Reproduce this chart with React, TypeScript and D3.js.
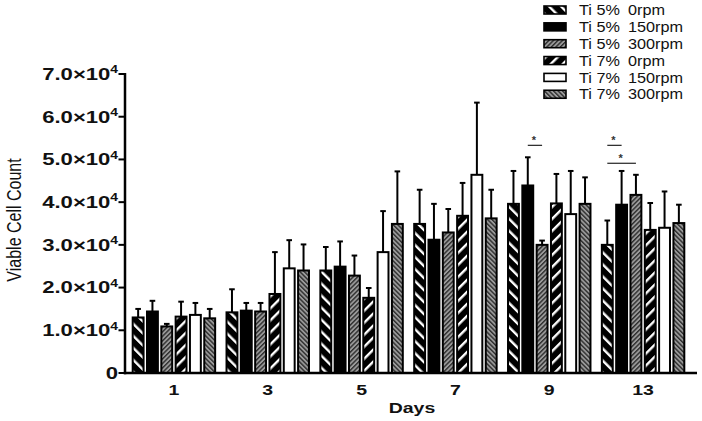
import React from "react";
import * as d3 from "d3";

const days = ["1", "3", "5", "7", "9", "13"];
const seriesNames = [
  ["Ti 5%", "0rpm"],
  ["Ti 5%", "150rpm"],
  ["Ti 5%", "300rpm"],
  ["Ti 7%", "0rpm"],
  ["Ti 7%", "150rpm"],
  ["Ti 7%", "300rpm"],
];
const ti5_0 = [13000, 14200, 24000, 34900, 39600, 30000];
const ti5_150 = [14400, 14600, 24900, 31200, 43900, 39400];
const ti5_300 = [10900, 14400, 22800, 32900, 30000, 41700];
const ti7_0 = [13200, 18500, 17600, 36800, 39700, 33500];
const ti7_150 = [13600, 24500, 28300, 46400, 37200, 34000];
const ti7_300 = [12800, 24000, 34900, 36200, 39600, 35100];
const err5_0 = [2000, 5400, 5500, 8000, 7700, 5700];
const err5_150 = [2500, 1800, 5900, 8400, 6600, 7900];
const err5_300 = [600, 2000, 4700, 5500, 1000, 4700];
const err7_0 = [3500, 9800, 2300, 7700, 6900, 6300];
const err7_150 = [2800, 6600, 9600, 16900, 10100, 8500];
const err7_300 = [2200, 6100, 12300, 6700, 6200, 4300];
const yTicks = [0, 10000, 20000, 30000, 40000, 50000, 60000, 70000];
const yTickMantissa = ["0", "1.0", "2.0", "3.0", "4.0", "5.0", "6.0", "7.0"];
const sigDays = ["9", "13", "13"];
const sigFrom = [1, 0, 0];
const sigTo = [2, 1, 2];
const sigLevel = [53300, 53300, 49100];

const means = [ti5_0, ti5_150, ti5_300, ti7_0, ti7_150, ti7_300];
const errs = [err5_0, err5_150, err5_300, err7_0, err7_150, err7_300];
const fills = ["url(#p0)", "#000", "url(#p2)", "url(#p3)", "#fff", "url(#p5)"];

const FONT = "'Liberation Sans', Arial, sans-serif";
const SX = 1.3;

export default function App() {
  const W = 702, H = 421;
  const x0 = d3.scaleBand<string>().domain(days).range([127, 690]).paddingInner(0.1).paddingOuter(0.05);
  const x1 = d3.scaleBand<number>().domain(d3.range(6)).range([0, x0.bandwidth()]).paddingInner(0.1).paddingOuter(0);
  const y = d3.scaleLinear().domain([0, 70000]).range([373, 74]);
  const bw = x1.bandwidth();
  const axisX = 125;
  const baseY = y(0);

  return (
    <svg width={W} height={H} style={{ position: "absolute", left: 0, top: 0, display: "block", background: "#fff" }}>
      <defs>
        <pattern id="p0" patternUnits="userSpaceOnUse" width={8.5} height={8.5} patternTransform="rotate(-45)">
          <rect width={8.5} height={8.5} fill="#000" />
          <rect x={0} y={0} width={2.4} height={8.5} fill="#fff" />
        </pattern>
        <pattern id="p3" patternUnits="userSpaceOnUse" width={8.5} height={8.5} patternTransform="rotate(45)">
          <rect width={8.5} height={8.5} fill="#000" />
          <rect x={0} y={0} width={2.4} height={8.5} fill="#fff" />
        </pattern>
        <pattern id="p2" patternUnits="userSpaceOnUse" width={3.2} height={3.2} patternTransform="rotate(45)">
          <rect width={3.2} height={3.2} fill="#9a9a9a" />
          <rect x={0} y={0} width={1.4} height={3.2} fill="#2e2e2e" />
        </pattern>
        <pattern id="p5" patternUnits="userSpaceOnUse" width={3.2} height={3.2} patternTransform="rotate(-45)">
          <rect width={3.2} height={3.2} fill="#9a9a9a" />
          <rect x={0} y={0} width={1.4} height={3.2} fill="#2e2e2e" />
        </pattern>
      </defs>

      {/* bars */}
      {days.map((d, gi) => (
        <g key={d}>
          {means.map((s, si) => {
            const bx = (x0(d) as number) + (x1(si) as number);
            const top = y(s[gi]);
            const et = y(s[gi] + errs[si][gi]);
            const cx = bx + bw / 2;
            return (
              <g key={si}>
                <line x1={cx} x2={cx} y1={top} y2={et} stroke="#000" strokeWidth={2} />
                <line x1={cx - 2.8} x2={cx + 2.8} y1={et} y2={et} stroke="#000" strokeWidth={2} />
                <rect x={bx + 1} y={top} width={bw - 2} height={baseY - top} fill={fills[si]} stroke="#000" strokeWidth={2} />
              </g>
            );
          })}
        </g>
      ))}

      {/* significance */}
      {sigDays.map((d, i) => {
        const xa = (x0(d) as number) + (x1(sigFrom[i]) as number) + bw / 2;
        const xb = (x0(d) as number) + (x1(sigTo[i]) as number) + bw / 2;
        const ly = y(sigLevel[i]);
        return (
          <g key={i}>
            <line x1={xa} x2={xb} y1={ly} y2={ly} stroke="#222" strokeWidth={1.2} />
            <text x={(xa + xb) / 2 - 1} y={ly - 1} textAnchor="middle" fontFamily={FONT} fontSize={11} fontWeight="bold" fill="#333">*</text>
          </g>
        );
      })}

      {/* axes */}
      <line x1={axisX} x2={axisX} y1={y(70000) - 1} y2={baseY + 1.2} stroke="#000" strokeWidth={2.5} />
      <line x1={axisX - 1.2} x2={697} y1={baseY} y2={baseY} stroke="#000" strokeWidth={2.5} />
      {yTicks.map((t, i) => (
        <g key={t}>
          <line x1={axisX - 6.5} x2={axisX} y1={y(t)} y2={y(t)} stroke="#000" strokeWidth={2} />
          <text
            transform={`translate(${axisX - 7},${y(t) + 5.8}) scale(1.38,1)`}
            textAnchor="end"
            fontFamily={FONT}
            fontWeight="bold"
            fontSize={16}
            fill="#111"
          >
            {t === 0 ? (
              "0"
            ) : (
              <>
                {yTickMantissa[i] + "\u00d710"}
                <tspan fontSize={10} dy={-6.5}>4</tspan>
              </>
            )}
          </text>
        </g>
      ))}
      {days.map((d) => (
        <text
          key={d}
          transform={`translate(${(x0(d) as number) + x0.bandwidth() / 2},${395}) scale(${SX},1)`}
          textAnchor="middle"
          fontFamily={FONT}
          fontWeight="bold"
          fontSize={15}
          fill="#111"
        >
          {d}
        </text>
      ))}
      <text
        transform={`translate(412,413) scale(${SX},1)`}
        textAnchor="middle"
        fontFamily={FONT}
        fontWeight="bold"
        fontSize={15}
        fill="#111"
      >
        Days
      </text>
      <text
        transform={`translate(21,220) scale(${SX},1) rotate(-90)`}
        textAnchor="middle"
        fontFamily={FONT}
        fontSize={16}
        fill="#111"
      >
        Viable Cell Count
      </text>

      {/* legend */}
      {seriesNames.map((n, i) => {
        const ly = 10 + i * 16.85;
        return (
          <g key={i}>
            <rect x={544} y={ly - 4} width={22} height={8} fill={fills[i]} stroke="#000" strokeWidth={1.6} />
            <text transform={`translate(579,${ly + 5.2}) scale(1.12,1)`} fontFamily={FONT} fontSize={14.5} fill="#111">{n[0]}</text>
            <text transform={`translate(628,${ly + 5.2}) scale(1.12,1)`} fontFamily={FONT} fontSize={14.5} fill="#111">{n[1]}</text>
          </g>
        );
      })}
    </svg>
  );
}
